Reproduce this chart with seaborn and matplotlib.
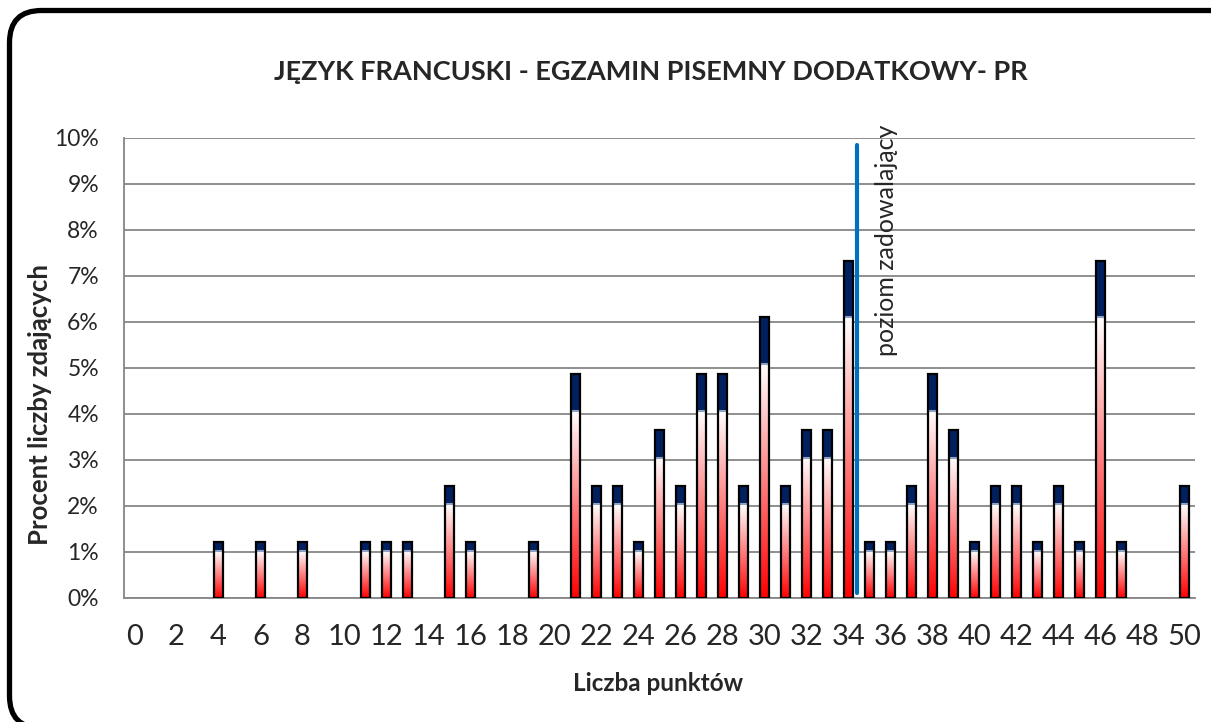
import numpy as np
import pandas as pd
import matplotlib
matplotlib.use('Agg')
from matplotlib import pyplot as plt
from matplotlib.patches import FancyBboxPatch
from matplotlib.transforms import IdentityTransform
from matplotlib.colors import LinearSegmentedColormap
import seaborn as sns

sns.set_style('white')
plt.rcParams['font.family'] = ['Lato', 'DejaVu Sans']

# dane
punkty = list(range(0, 51))
procent = [0, 0, 0, 0, 1.22, 0, 1.22, 0, 1.22, 0,
           0, 1.22, 1.22, 1.22, 0, 2.44, 1.22, 0, 0, 1.22,
           0, 4.88, 2.44, 2.44, 1.22, 3.66, 2.44, 4.88, 4.88, 2.44,
           6.10, 2.44, 3.66, 3.66, 7.32, 1.22, 1.22, 2.44, 4.88, 3.66,
           1.22, 2.44, 2.44, 1.22, 2.44, 1.22, 7.32, 1.22, 0, 0,
           2.44]
etykiety_x = [str(p) if p % 2 == 0 else '' for p in punkty]
etykiety_y = ['%d%%' % v for v in range(0, 11)]
prog = 34.4          # poziom zadowalający
prog_od, prog_do = 0.1, 9.85

tytul = 'JĘZYK FRANCUSKI - EGZAMIN PISEMNY DODATKOWY- PR'
os_x = 'Liczba punktów'
os_y = 'Procent liczby zdających'
opis = 'poziom zadowalający'

granat = '#002060'
szary = '#868686'
czesc = 5 / 6  # dolna (czerwona) część słupka

df = pd.DataFrame({'pkt': punkty, 'proc': procent})

fig = plt.figure(figsize=(12.11, 7.22), dpi=100)
ax = fig.add_axes([124 / 1211, 1 - 598 / 722, (1195 - 124) / 1211, 460 / 722])

sns.barplot(data=df, x='pkt', y='proc', order=punkty, color=granat, saturation=1,
            width=0.45, linewidth=0, ax=ax, zorder=3)

cmap = LinearSegmentedColormap.from_list('rw', ['#ff0000', '#ff8080', '#ffffff'])
grad = np.linspace(0, 1, 256).reshape(-1, 1)
for p in list(ax.patches):
    h = p.get_height()
    if h <= 0:
        continue
    x0 = p.get_x()
    w = p.get_width()
    im = ax.imshow(grad, extent=[x0, x0 + w, 0, h * czesc], origin='lower',
                   cmap=cmap, aspect='auto', zorder=4, interpolation='bilinear')
    im.set_clip_path(p)
    ax.plot([x0, x0 + w], [h * czesc, h * czesc], color='#8fa0c0', lw=1.5, zorder=5)

sns.barplot(data=df[df['proc'] > 0], x='pkt', y='proc', order=punkty, color='black',
            fill=False, width=0.45, linewidth=1.6, ax=ax, zorder=6)

ax.plot([prog, prog], [prog_od, prog_do], color='#0070c0', lw=3, zorder=7)
ax.text(prog + 1.4, 10.28, opis, rotation=90, ha='center', va='top',
        fontsize=18, clip_on=False, zorder=8)

ax.set_xlim(-0.5, 50.5)
ax.set_ylim(0, 10)
ax.set_yticks(range(0, 11))
ax.set_yticklabels(etykiety_y, fontsize=16.5)
ax.set_xticks(punkty)
ax.set_xticklabels(etykiety_x, fontsize=21)
ax.set_xticks(np.arange(-0.5, 51, 1), minor=True)
ax.tick_params(axis='x', which='major', length=0, pad=19)
ax.tick_params(axis='x', which='minor', length=6, width=1.3, color=szary, direction='out')
ax.tick_params(axis='y', length=6, width=1.3, color=szary, direction='out', pad=12)
ax.grid(axis='y', color=szary, lw=1.3, zorder=0)
ax.set_axisbelow(True)
for s in ['top', 'right']:
    ax.spines[s].set_visible(False)
for s in ['left', 'bottom']:
    ax.spines[s].set_color(szary)
    ax.spines[s].set_linewidth(1.3)

ax.set_xlabel(os_x, fontsize=17.5, fontweight='bold', va='center')
ax.set_ylabel(os_y, fontsize=18.5, fontweight='bold', va='center')
ax.xaxis.set_label_coords(0.4986, -0.185)
ax.yaxis.set_label_coords(-0.078, 0.42)
fig.text(651 / 1211, 1 - 72 / 722, tytul, ha='center', va='center',
         fontsize=19.5, fontweight='bold')

# ramka z zaokrąglonymi rogami (w pikselach)
ramka = FancyBboxPatch((9.5, -6), 1240, 717.5,
                       boxstyle='round,pad=0,rounding_size=32',
                       transform=IdentityTransform(), fill=False, ec='black', lw=3.8)
fig.patches.append(ramka)

fig.savefig('out.png', dpi=100)
